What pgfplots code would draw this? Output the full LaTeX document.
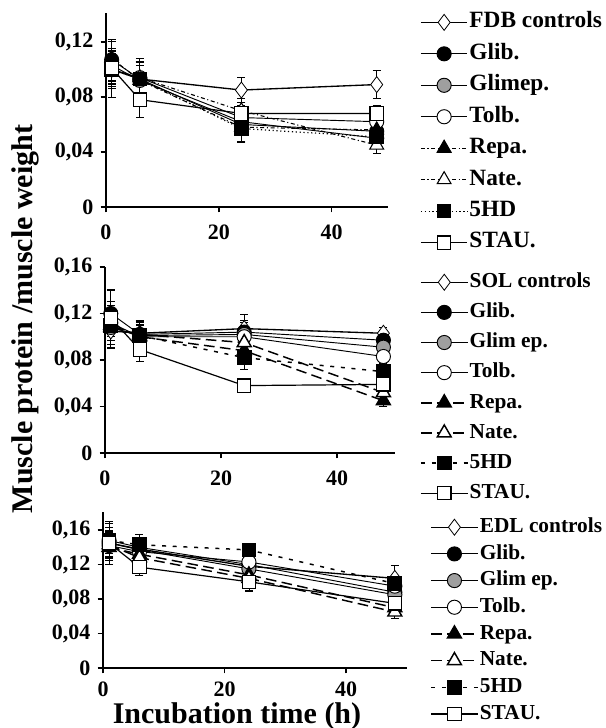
\documentclass[border=0pt]{standalone}
\usepackage{fontspec}
\setmainfont{Liberation Serif}
\usepackage{pgfplots}
\pgfplotsset{compat=1.18}

\pgfplotsset{
  panel/.style={
    scale only axis, axis lines=left, axis line style={-, line width=1.5pt},
    xmin=0, xmax=50, ymin=0, xtick={0,20,40}, clip=false,
    tick align=outside, major tick length=4pt,
    tick style={line width=1.2pt, black},
    ticklabel style={font=\fontsize{16.5}{16.5}\selectfont\bfseries},
    yticklabel style={xshift=-2pt},
    /pgf/number format/use comma, /pgf/number format/fixed,
    /pgf/number format/precision=2, /pgf/number format/assume math mode=true,
    legend cell align=left,
    legend image code/.code={\draw[mark repeat=2,mark phase=2,##1] plot coordinates {(0pt,0pt)(17.5pt,0pt)(35pt,0pt)};},
    legend style={draw=none, fill=none, anchor=north west, inner sep=0pt,
      nodes={inner sep=1pt, text height=12pt, text depth=4pt}},
    error bars/y dir=both, error bars/y explicit,
    error bars/error bar style={line width=0.6pt, solid},
    error bars/error mark options={rotate=90, mark size=3pt, line width=0.6pt},
  },
  ctrl/.style={black, line width=1pt, mark=diamond*, mark size=6pt, mark options={solid, fill=white, line width=0.6pt}},
  glib/.style={black, line width=0.7pt, mark=*, mark size=5.3pt, mark options={solid, fill=black}},
  glim/.style={black, line width=0.7pt, mark=*, mark size=5.3pt, mark options={solid, fill=gray!75}},
  tolb/.style={black, line width=0.7pt, mark=*, mark size=5.3pt, mark options={solid, fill=white}},
  repa/.style={black, line width=0.8pt, mark=triangle*, mark size=6pt, mark options={solid, fill=black}},
  nate/.style={black, line width=0.8pt, mark=triangle*, mark size=6pt, mark options={solid, fill=white}},
  hd/.style={black, line width=0.9pt, mark=square*, mark size=5pt, mark options={solid, fill=black}},
  stau/.style={black, line width=0.9pt, mark=square*, mark size=5pt, mark options={solid, fill=white}},
  longdash/.style={line width=1.1pt, dash pattern=on 8pt off 4pt},
  shortdash/.style={line width=1.1pt, dash pattern=on 3pt off 5pt},
}

\begin{document}
\begin{tikzpicture}
\useasboundingbox (0,0) rectangle (454.5pt,-546pt);

% FDB panel
\begin{axis}[panel, at={(79.5pt,-155.25pt)}, anchor=south west,
  width=211.5pt, height=145.5pt, ymax=0.141, ytick={0,0.04,0.08,0.12},
  xticklabel style={yshift=-6pt},
  legend style={at={(1.113,1.015)}, row sep=5.6pt, font=\fontsize{17.5}{17.5}\selectfont\bfseries}]
\addplot[ctrl] coordinates {(1,0.100)+-(0,0.020) (6,0.093)+-(0,0.012) (24,0.085)+-(0,0.009) (48,0.089)+-(0,0.010)};
\addplot[glib] coordinates {(1,0.107)+-(0,0.015) (6,0.093)+-(0,0.015) (24,0.060)+-(0,0.008) (48,0.055)+-(0,0.008)};
\addplot[glim] coordinates {(1,0.103)+-(0,0.012) (6,0.092)+-(0,0.014) (24,0.062)+-(0,0.008) (48,0.050)+-(0,0.007)};
\addplot[tolb] coordinates {(1,0.100)+-(0,0.012) (6,0.094)+-(0,0.012) (24,0.065)+-(0,0.008) (48,0.062)+-(0,0.008)};
\addplot[repa, dash dot] coordinates {(1,0.108)+-(0,0.012) (6,0.092)+-(0,0.013) (24,0.058)+-(0,0.010) (48,0.056)+-(0,0.006)};
\addplot[nate, dash dot] coordinates {(1,0.100)+-(0,0.014) (6,0.094)+-(0,0.012) (24,0.070)+-(0,0.009) (48,0.045)+-(0,0.006)};
\addplot[hd, dotted] coordinates {(1,0.100)+-(0,0.010) (6,0.093)+-(0,0.010) (24,0.057)+-(0,0.010) (48,0.051)+-(0,0.008)};
\addplot[stau] coordinates {(1,0.101)+-(0,0.012) (6,0.078)+-(0,0.013) (24,0.068)+-(0,0.006) (48,0.068)+-(0,0.006)};
\legend{FDB controls, Glib., Glimep., Tolb., Repa., Nate., 5HD, STAU.}
\end{axis}

% SOL panel
\begin{axis}[panel, at={(78.75pt,-339.75pt)}, anchor=south west,
  width=217.5pt, height=139.5pt, ymax=0.16, ytick={0,0.04,0.08,0.12,0.16},
  xticklabel style={yshift=-6pt},
  legend style={at={(1.086,0.984)}, row sep=4.6pt, font=\fontsize{16}{16}\selectfont\bfseries}]
\addplot[ctrl] coordinates {(1,0.105)+-(0,0.015) (6,0.103)+-(0,0.010) (24,0.107)+-(0,0.012) (48,0.103)+-(0,0.005)};
\addplot[glib] coordinates {(1,0.120)+-(0,0.020) (6,0.102)+-(0,0.012) (24,0.104)+-(0,0.010) (48,0.097)+-(0,0.006)};
\addplot[glim] coordinates {(1,0.108)+-(0,0.015) (6,0.101)+-(0,0.010) (24,0.102)+-(0,0.010) (48,0.091)+-(0,0.006)};
\addplot[tolb] coordinates {(1,0.112)+-(0,0.015) (6,0.100)+-(0,0.010) (24,0.100)+-(0,0.010) (48,0.083)+-(0,0.006)};
\addplot[repa, longdash] coordinates {(1,0.110)+-(0,0.020) (6,0.100)+-(0,0.012) (24,0.088)+-(0,0.010) (48,0.045)+-(0,0.005)};
\addplot[nate, longdash] coordinates {(1,0.108)+-(0,0.015) (6,0.102)+-(0,0.012) (24,0.095)+-(0,0.012) (48,0.052)+-(0,0.006)};
\addplot[hd, shortdash] coordinates {(1,0.110)+-(0,0.020) (6,0.101)+-(0,0.013) (24,0.082)+-(0,0.010) (48,0.070)+-(0,0.008)};
\addplot[stau] coordinates {(1,0.116)+-(0,0.025) (6,0.089)+-(0,0.010) (24,0.058)+-(0,0.006) (48,0.059)+-(0,0.006)};
\legend{SOL controls, Glib., Glim ep., Tolb., Repa., Nate., 5HD, STAU.}
\end{axis}

% EDL panel
\begin{axis}[panel, at={(77.25pt,-501pt)}, anchor=south west,
  width=228pt, height=117pt, ymax=0.181, ytick={0,0.04,0.08,0.12,0.16},
  xticklabel style={yshift=-2.5pt},
  legend style={at={(1.076,0.981)}, row sep=2pt, font=\fontsize{16}{16}\selectfont\bfseries}]
\addplot[ctrl] coordinates {(1,0.145)+-(0,0.025) (6,0.138)+-(0,0.010) (24,0.118)+-(0,0.010) (48,0.104)+-(0,0.015)};
\addplot[glib] coordinates {(1,0.148)+-(0,0.020) (6,0.140)+-(0,0.015) (24,0.120)+-(0,0.010) (48,0.088)+-(0,0.010)};
\addplot[glim] coordinates {(1,0.145)+-(0,0.015) (6,0.137)+-(0,0.012) (24,0.115)+-(0,0.010) (48,0.085)+-(0,0.010)};
\addplot[tolb] coordinates {(1,0.142)+-(0,0.015) (6,0.135)+-(0,0.010) (24,0.123)+-(0,0.010) (48,0.095)+-(0,0.010)};
\addplot[repa, longdash] coordinates {(1,0.140)+-(0,0.015) (6,0.132)+-(0,0.012) (24,0.108)+-(0,0.015) (48,0.070)+-(0,0.008)};
\addplot[nate, longdash] coordinates {(1,0.143)+-(0,0.015) (6,0.128)+-(0,0.012) (24,0.104)+-(0,0.015) (48,0.065)+-(0,0.008)};
\addplot[hd, shortdash] coordinates {(1,0.148)+-(0,0.015) (6,0.143)+-(0,0.012) (24,0.137)+-(0,0.008) (48,0.098)+-(0,0.010)};
\addplot[stau] coordinates {(1,0.145)+-(0,0.015) (6,0.117)+-(0,0.010) (24,0.100)+-(0,0.010) (48,0.075)+-(0,0.008)};
\legend{EDL controls, Glib., Glim ep., Tolb., Repa., Nate., 5HD, STAU.}
\end{axis}

\node[rotate=90, font=\fontsize{22.5}{22.5}\selectfont\bfseries] at (18.75pt,-239.25pt) {Muscle protein /muscle weight};
\node[anchor=base, font=\fontsize{22.5}{22.5}\selectfont\bfseries] at (177.75pt,-542.25pt) {Incubation time (h)};
\end{tikzpicture}
\end{document}
